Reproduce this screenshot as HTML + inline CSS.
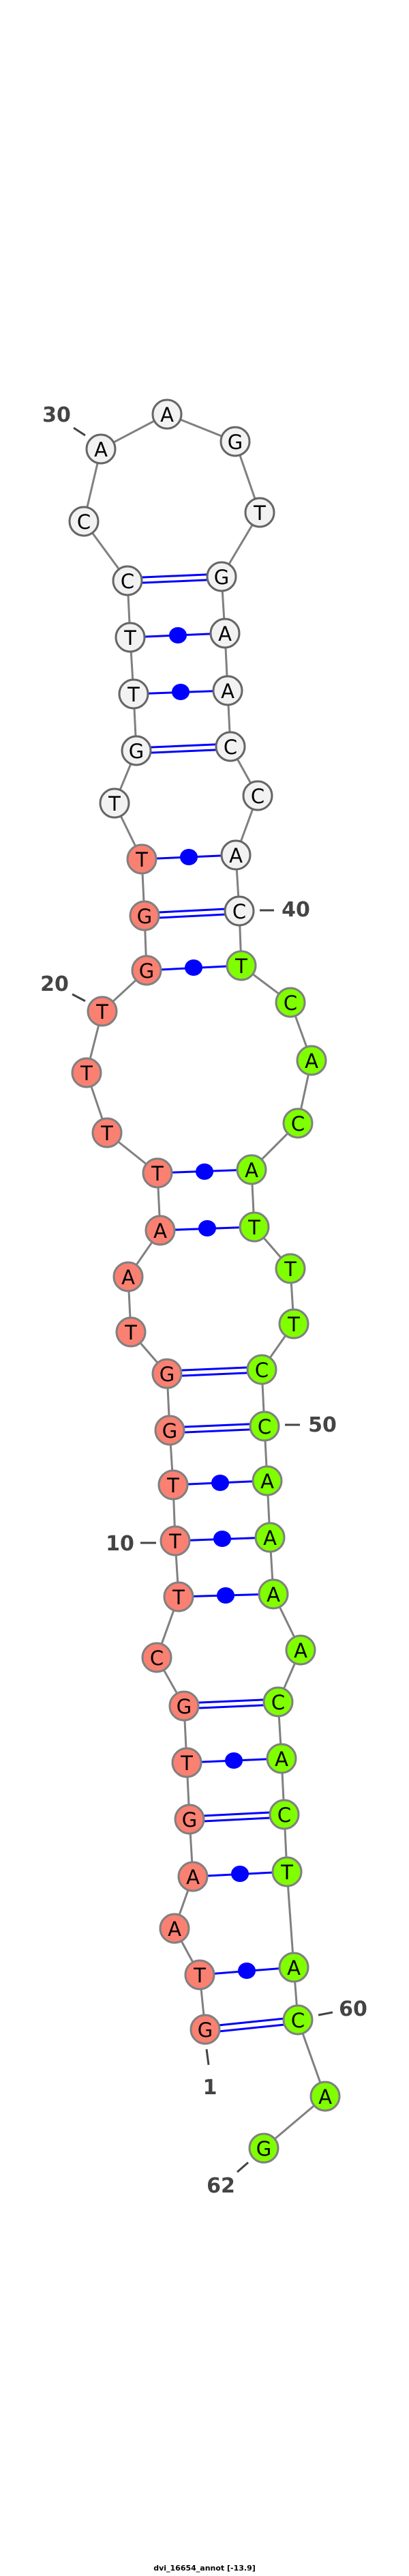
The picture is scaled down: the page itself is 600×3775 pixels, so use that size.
<!DOCTYPE html>
<html><head><meta charset="utf-8"><style>
html,body{margin:0;padding:0;background:#fff;}
svg{display:block;}
.n text{font-family:"DejaVu Sans","Liberation Sans",sans-serif;font-size:29px;text-anchor:middle;fill:#000;}
.lab{font-family:"DejaVu Sans","Liberation Sans",sans-serif;font-size:30px;font-weight:bold;fill:#444;text-anchor:middle;}
</style></head><body>
<svg width="600" height="3775" viewBox="0 0 600 3775" xmlns="http://www.w3.org/2000/svg">
<polyline fill="none" stroke="#808080" stroke-width="3" points="301,2974 293,2894 256,2826 283,2750 278,2666 274,2583 270,2500 230,2429 262,2340 257,2258 254,2176 249,2096 245,2013 192,1952 188,1871 235,1803 231,1719 157,1660 127,1572 150,1482 215,1422 212,1342 208,1259 168,1177 200,1100 196,1017 191,934 187,851 123,764 148,658 245,607 345,647 381,751 325,845 330,928 334,1012 338,1094 378,1166 346,1253 351,1335 354,1415 426,1469 457,1554 437,1646 369,1714 373,1798 426,1859 431,1940 384,2007 388,2090 392,2170 396,2253 401,2336 441,2418 408,2494 413,2577 417,2659 421,2743 431,2883 437,2960 477,3072 387,3148"/>
<g stroke="#0000ff" stroke-width="3">
<!-- GC double lines -->
<line x1="301" y1="2970" x2="437" y2="2956"/><line x1="301" y1="2979" x2="437" y2="2965"/>
<line x1="278" y1="2662" x2="417" y2="2655"/><line x1="278" y1="2670" x2="417" y2="2663"/>
<line x1="270" y1="2496" x2="408" y2="2490"/><line x1="270" y1="2504" x2="408" y2="2498"/>
<line x1="249" y1="2092" x2="388" y2="2086"/><line x1="249" y1="2100" x2="388" y2="2094"/>
<line x1="245" y1="2009" x2="384" y2="2003"/><line x1="245" y1="2017" x2="384" y2="2011"/>
<line x1="212" y1="1338" x2="351" y2="1331"/><line x1="212" y1="1346" x2="351" y2="1339"/>
<line x1="200" y1="1096" x2="338" y2="1090"/><line x1="200" y1="1104" x2="338" y2="1098"/>
<line x1="187" y1="847" x2="325" y2="841"/><line x1="187" y1="855" x2="325" y2="849"/>
<!-- single -->
<line x1="293" y1="2894" x2="431" y2="2883"/>
<line x1="283" y1="2750" x2="421" y2="2743"/>
<line x1="274" y1="2583" x2="413" y2="2577"/>
<line x1="262" y1="2340" x2="401" y2="2336"/>
<line x1="257" y1="2258" x2="396" y2="2253"/>
<line x1="254" y1="2176" x2="392" y2="2170"/>
<line x1="235" y1="1803" x2="373" y2="1798"/>
<line x1="231" y1="1719" x2="369" y2="1714"/>
<line x1="215" y1="1422" x2="354" y2="1415"/>
<line x1="208" y1="1259" x2="346" y2="1253"/>
<line x1="196" y1="1017" x2="334" y2="1012"/>
<line x1="191" y1="934" x2="330" y2="928"/>
</g>
<g fill="#0000ff">
<ellipse cx="362" cy="2888" rx="13" ry="12"/>
<ellipse cx="352" cy="2746" rx="13" ry="12"/>
<ellipse cx="343" cy="2580" rx="13" ry="12"/>
<ellipse cx="331" cy="2338" rx="13" ry="12"/>
<ellipse cx="326" cy="2255" rx="13" ry="12"/>
<ellipse cx="323" cy="2173" rx="13" ry="12"/>
<ellipse cx="304" cy="1800" rx="13" ry="12"/>
<ellipse cx="300" cy="1717" rx="13" ry="12"/>
<ellipse cx="284" cy="1418" rx="13" ry="12"/>
<ellipse cx="277" cy="1256" rx="13" ry="12"/>
<ellipse cx="265" cy="1014" rx="13" ry="12"/>
<ellipse cx="261" cy="931" rx="13" ry="12"/>
</g>
<!-- labels ticks -->
<g stroke="#444" stroke-width="3">
<line x1="303" y1="3003" x2="306" y2="3026"/>
<line x1="206" y1="2261" x2="229" y2="2261"/>
<line x1="106" y1="1457" x2="125" y2="1467"/>
<line x1="108" y1="627" x2="125" y2="638"/>
<line x1="381" y1="1334" x2="402" y2="1334"/>
<line x1="418" y1="2088" x2="440" y2="2088"/>
<line x1="467" y1="2953" x2="488" y2="2949"/>
<line x1="348" y1="3183" x2="364" y2="3169"/>
</g>
<text class="lab" x="308" y="3069">1</text>
<text class="lab" x="176" y="2272">10</text>
<text class="lab" x="80" y="1452">20</text>
<text class="lab" x="83" y="618">30</text>
<text class="lab" x="434" y="1343">40</text>
<text class="lab" x="473" y="2098">50</text>
<text class="lab" x="518" y="2954">60</text>
<text class="lab" x="324" y="3213">62</text>
<!-- nodes red -->
<g class="n" stroke-width="3">
<g fill="#fa8072" stroke="#808080">
<circle cx="301" cy="2974" r="21"/><circle cx="293" cy="2894" r="21"/><circle cx="256" cy="2826" r="21"/><circle cx="283" cy="2750" r="21"/><circle cx="278" cy="2666" r="21"/><circle cx="274" cy="2583" r="21"/><circle cx="270" cy="2500" r="21"/><circle cx="230" cy="2429" r="21"/><circle cx="262" cy="2340" r="21"/><circle cx="257" cy="2258" r="21"/><circle cx="254" cy="2176" r="21"/><circle cx="249" cy="2096" r="21"/><circle cx="245" cy="2013" r="21"/><circle cx="192" cy="1952" r="21"/><circle cx="188" cy="1871" r="21"/><circle cx="235" cy="1803" r="21"/><circle cx="231" cy="1719" r="21"/><circle cx="157" cy="1660" r="21"/><circle cx="127" cy="1572" r="21"/><circle cx="150" cy="1482" r="21"/><circle cx="215" cy="1422" r="21"/><circle cx="212" cy="1342" r="21"/><circle cx="208" cy="1259" r="21"/>
</g>
<g fill="#f2f2f2" stroke="#666">
<circle cx="168" cy="1177" r="21"/><circle cx="200" cy="1100" r="21"/><circle cx="196" cy="1017" r="21"/><circle cx="191" cy="934" r="21"/><circle cx="187" cy="851" r="21"/><circle cx="123" cy="764" r="21"/><circle cx="148" cy="658" r="21"/><circle cx="245" cy="607" r="21"/><circle cx="345" cy="647" r="21"/><circle cx="381" cy="751" r="21"/><circle cx="325" cy="845" r="21"/><circle cx="330" cy="928" r="21"/><circle cx="334" cy="1012" r="21"/><circle cx="338" cy="1094" r="21"/><circle cx="378" cy="1166" r="21"/><circle cx="346" cy="1253" r="21"/><circle cx="351" cy="1335" r="21"/>
</g>
<g fill="#7fff00" stroke="#808080">
<circle cx="354" cy="1415" r="21"/><circle cx="426" cy="1469" r="21"/><circle cx="457" cy="1554" r="21"/><circle cx="437" cy="1646" r="21"/><circle cx="369" cy="1714" r="21"/><circle cx="373" cy="1798" r="21"/><circle cx="426" cy="1859" r="21"/><circle cx="431" cy="1940" r="21"/><circle cx="384" cy="2007" r="21"/><circle cx="388" cy="2090" r="21"/><circle cx="392" cy="2170" r="21"/><circle cx="396" cy="2253" r="21"/><circle cx="401" cy="2336" r="21"/><circle cx="441" cy="2418" r="21"/><circle cx="408" cy="2494" r="21"/><circle cx="413" cy="2577" r="21"/><circle cx="417" cy="2659" r="21"/><circle cx="421" cy="2743" r="21"/><circle cx="431" cy="2883" r="21"/><circle cx="437" cy="2960" r="21"/><circle cx="477" cy="3072" r="21"/><circle cx="387" cy="3148" r="21"/>
</g>
<text x="301" y="2985">G</text><text x="293" y="2905">T</text><text x="256" y="2837">A</text><text x="283" y="2761">A</text><text x="278" y="2677">G</text><text x="274" y="2594">T</text><text x="270" y="2511">G</text><text x="230" y="2440">C</text><text x="262" y="2351">T</text><text x="257" y="2269">T</text><text x="254" y="2187">T</text><text x="249" y="2107">G</text><text x="245" y="2024">G</text><text x="192" y="1963">T</text><text x="188" y="1882">A</text><text x="235" y="1814">A</text><text x="231" y="1730">T</text><text x="157" y="1671">T</text><text x="127" y="1583">T</text><text x="150" y="1493">T</text><text x="215" y="1433">G</text><text x="212" y="1353">G</text><text x="208" y="1270">T</text>
<text x="168" y="1188">T</text><text x="200" y="1111">G</text><text x="196" y="1028">T</text><text x="191" y="945">T</text><text x="187" y="862">C</text><text x="123" y="775">C</text><text x="148" y="669">A</text><text x="245" y="618">A</text><text x="345" y="658">G</text><text x="381" y="762">T</text><text x="325" y="856">G</text><text x="330" y="939">A</text><text x="334" y="1023">A</text><text x="338" y="1105">C</text><text x="378" y="1177">C</text><text x="346" y="1264">A</text><text x="351" y="1346">C</text>
<text x="354" y="1426">T</text><text x="426" y="1480">C</text><text x="457" y="1565">A</text><text x="437" y="1657">C</text><text x="369" y="1725">A</text><text x="373" y="1809">T</text><text x="426" y="1870">T</text><text x="431" y="1951">T</text><text x="384" y="2018">C</text><text x="388" y="2101">C</text><text x="392" y="2181">A</text><text x="396" y="2264">A</text><text x="401" y="2347">A</text><text x="441" y="2429">A</text><text x="408" y="2505">C</text><text x="413" y="2588">A</text><text x="417" y="2670">C</text><text x="421" y="2754">T</text><text x="431" y="2894">A</text><text x="437" y="2971">C</text><text x="477" y="3083">A</text><text x="387" y="3159">G</text>
</g>
<text x="300" y="3767" font-family="'DejaVu Sans','Liberation Sans',sans-serif" font-size="11" font-weight="bold" text-anchor="middle" fill="#000">dvi_16654_annot [-13.9]</text>
</svg>
</body></html>
